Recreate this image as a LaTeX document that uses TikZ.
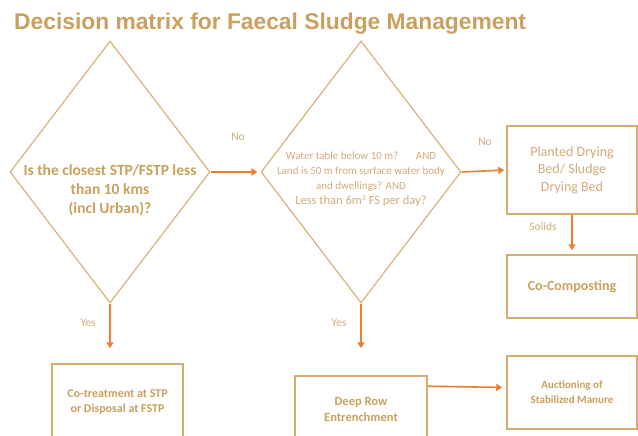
\documentclass[tikz,border=0pt]{standalone}
\usepackage{fontspec}
\setmainfont{Carlito}
\newfontfamily\titlefont{Liberation Sans}
\usetikzlibrary{shapes.geometric,arrows.meta}
\definecolor{fsgold}{RGB}{202,160,92}
\definecolor{fsline}{RGB}{214,172,112}
\definecolor{fsorange}{RGB}{237,125,49}
\definecolor{fslight}{RGB}{212,170,124}
\tikzset{
  decision/.style={diamond,draw=fsline,line width=1.1pt,minimum width=200pt,minimum height=262pt,inner sep=0pt},
  qtext/.style={align=center,inner sep=0pt},
  outcome/.style={rectangle,draw=fsline,line width=1.5pt,inner sep=0pt,align=center,minimum width=130pt},
  flow/.style={draw=fsorange,line width=1.6pt,-{Triangle[length=6pt,width=7pt]}},
  tag/.style={text=fslight,font=\fontsize{11.5}{13}\selectfont,inner sep=0pt}
}
\begin{document}
\begin{tikzpicture}[x=1pt,y=-1pt]
\useasboundingbox[fill=white] (0,0) rectangle (638,436);
\node[anchor=base west,inner sep=0pt,text=fsgold,font=\titlefont\bfseries\fontsize{22.8}{26}\selectfont] (title) at (14,30) {Decision matrix for Faecal Sludge Management};

% decisions
\node[decision] (near) at (110,172) {};
\node[qtext,text=fsgold,font=\bfseries\fontsize{15.5}{19}\selectfont] (nearq) at (110,190) {Is the closest STP/FSTP less\\than 10 kms\\(incl Urban)?};
\node[decision] (site) at (361,172) {};
\node[qtext,text=fslight,font=\fontsize{11}{15}\selectfont] (siteq) at (361,179) {Water table below 10 m?\hspace{1.6em}AND\\Land is 50 m from surface water body\\and dwellings? AND\\{\fontsize{12.5}{15}\selectfont Less than 6m{\fontsize{8}{8}\selectfont\raisebox{4pt}{3}} FS per day?}};

% outcomes
\node[outcome,minimum width=131pt,minimum height=76pt,text=fsgold,font=\bfseries\fontsize{12}{15}\selectfont] (cotreat) at (117.5,402) {Co-treatment at STP\\or Disposal at FSTP};
\node[outcome,minimum width=132pt,minimum height=66pt,text=fsgold,font=\bfseries\fontsize{12.5}{16}\selectfont] (deeprow) at (361,409) {Deep Row\\Entrenchment};
\node[outcome,minimum height=88pt,text=fslight,font=\fontsize{14}{17.5}\selectfont] (pdb) at (572,170) {Planted Drying\\Bed/ Sludge\\Drying Bed};
\node[outcome,minimum height=63pt,text=fsgold,font=\bfseries\fontsize{14}{16}\selectfont] (cocomp) at (572,286.5) {Co-Composting};
\node[outcome,minimum height=73pt,text=fsgold,font=\bfseries\fontsize{11}{15}\selectfont] (auction) at (572,392.5) {Auctioning of\\Stabilized Manure};

% arrows
\draw[flow,shorten >=3pt] (near.east) -- (site.west);
\draw[flow,shorten >=2pt] (site.east) -- (pdb.west);
\draw[flow,shorten >=4pt] (pdb.south) -- (cocomp.north);
\draw[flow,shorten >=15pt] (near.south) -- (near.south |- cotreat.north);
\draw[flow,shorten >=27pt] (site.south) -- (site.south |- deeprow.north);
\draw[flow,shorten >=4pt] ([yshift=-11pt]deeprow.north east) -- ([yshift=5pt]auction.west);

% labels
\node[tag] (no1) at (238,137) {No};
\node[tag] (no2) at (485,142) {No};
\node[tag] (yes1) at (88,323) {Yes};
\node[tag] (yes2) at (339,323) {Yes};
\node[tag] (solids) at (543,227) {Solids};
\end{tikzpicture}
\end{document}
